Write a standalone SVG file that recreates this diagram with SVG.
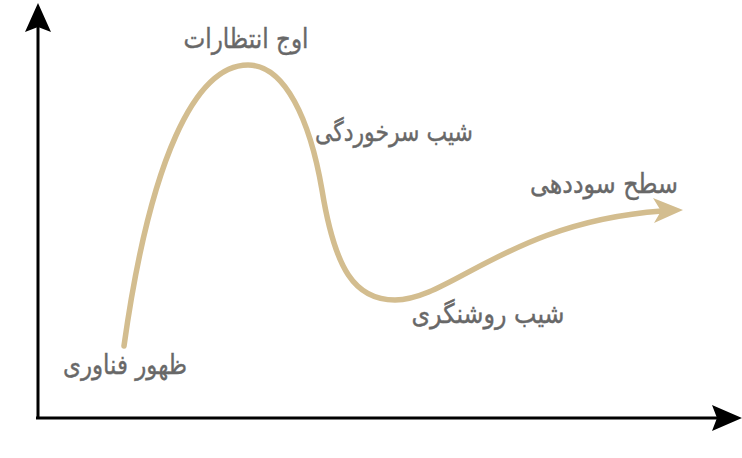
<svg xmlns="http://www.w3.org/2000/svg" width="742" height="458" viewBox="0 0 742 458">
<style>
.axis{stroke:#000;stroke-width:3;fill:none}
.head{fill:#000}
.curve{stroke:#D3BD8F;stroke-width:5.5;fill:none;stroke-linecap:round}
.chead{fill:#D3BD8F}
.lbl{font-family:"DejaVu Sans","Noto Sans",sans-serif;font-size:27px;fill:#686868;stroke:#686868;stroke-width:0.4px;text-anchor:middle}
</style>
<rect width="742" height="458" fill="#fff"/>
<g id="connectors">
<line class="axis" x1="38" y1="419" x2="38" y2="26"/>
<polygon class="head" points="38,3 25,32 38,27 51,32"/>
<line class="axis" x1="36" y1="418" x2="718" y2="418"/>
<polygon class="head" points="742,418 712,405 717,418 712,431"/>
<path class="curve" d="M124,346 C150,160 195,65 248,65 C285,65 310,120 322,190 C335,270 355,300 395,300 C450,300 510,222 662,211"/>
<polygon class="chead" points="683,210 653,198 661,211 654,223"/>
</g>
<g id="peak"><text class="lbl" x="246" y="48" textLength="125" lengthAdjust="spacingAndGlyphs">اوج انتظارات</text></g>
<g id="trough-slope"><text class="lbl" x="394" y="141" textLength="158" lengthAdjust="spacingAndGlyphs">شیب سرخوردگی</text></g>
<g id="plateau"><text class="lbl" x="604" y="193" textLength="148" lengthAdjust="spacingAndGlyphs">سطح سوددهی</text></g>
<g id="enlightenment"><text class="lbl" x="488" y="323" textLength="153" lengthAdjust="spacingAndGlyphs">شیب روشنگری</text></g>
<g id="trigger"><text class="lbl" x="125" y="374" textLength="124" lengthAdjust="spacingAndGlyphs">ظهور فناوری</text></g>
</svg>
